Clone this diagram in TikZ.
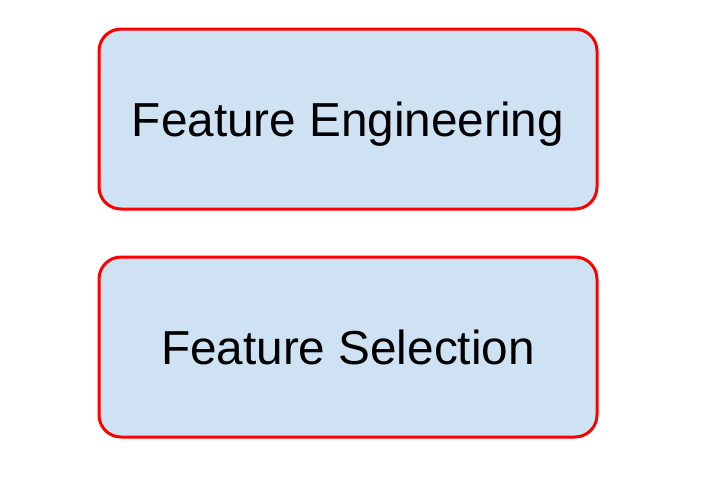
\documentclass[tikz,border=0pt]{standalone}
\usepackage{fontspec}
\setmainfont{Liberation Sans}
\definecolor{boxfill}{HTML}{CFE2F3}
\definecolor{boxline}{HTML}{FF0000}
\begin{document}
\begin{tikzpicture}[x=1pt,y=-1pt,
  stagebox/.style={draw=boxline,fill=boxfill,line width=3pt,rounded corners=22pt,
    minimum width=498pt,minimum height=180pt,inner sep=0pt,text depth=0pt,
    font=\fontsize{47.7}{57}\selectfont}]
\useasboundingbox (0,0) rectangle (701,485);
\fill[white] (0,0) rectangle (701,485);
\node[stagebox] (fe) at (348,119) {Feature Engineering};
\node[stagebox] (fs) at (348,347) {Feature Selection};
\end{tikzpicture}
\end{document}
